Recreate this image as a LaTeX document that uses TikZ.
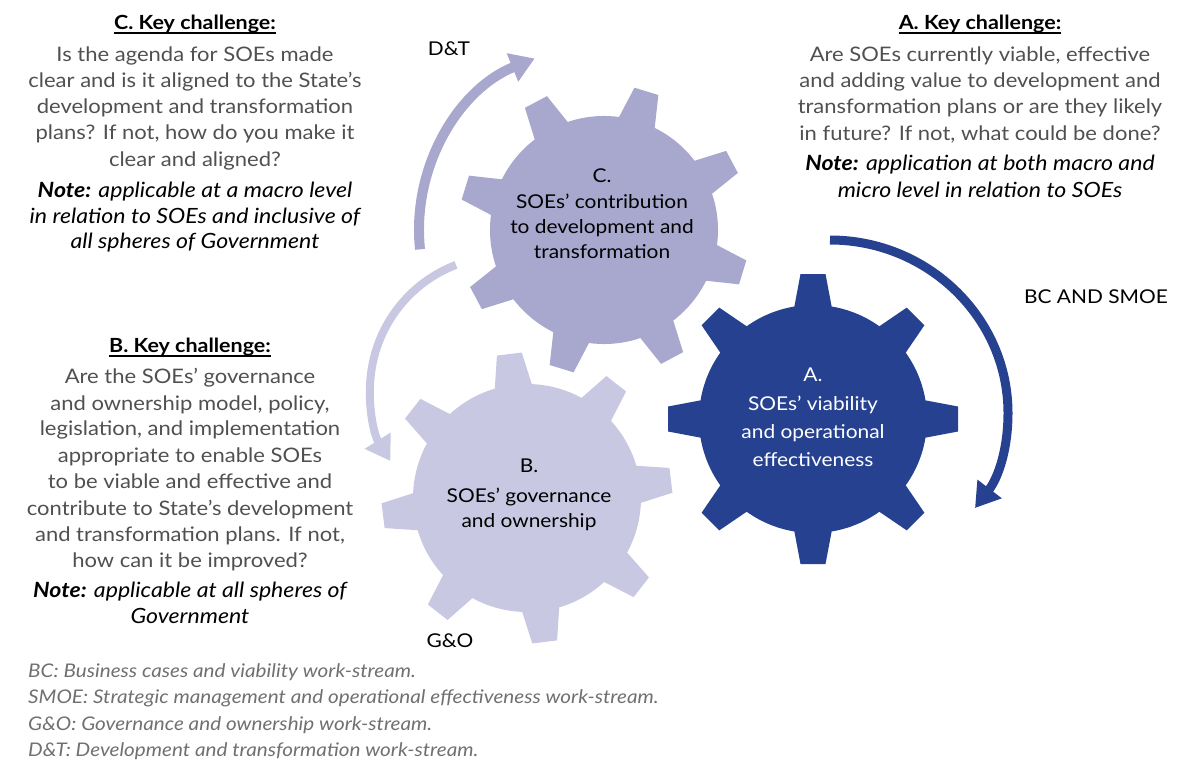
\documentclass[tikz,border=0pt]{standalone}
\usepackage{fontspec}
\setmainfont{Lato}[FakeStretch=1.1]
\usetikzlibrary{arrows.meta,calc}
\definecolor{gearA}{HTML}{26418F}
\definecolor{gearB}{HTML}{C9C8E2}
\definecolor{gearC}{HTML}{A8A8CE}
\definecolor{bodytext}{HTML}{505050}
\definecolor{foottext}{HTML}{707070}
\tikzset{
  bodyline/.style={anchor=base, inner sep=0pt, text=bodytext, font=\fontsize{20}{26}\selectfont},
  noteline/.style={anchor=base, inner sep=0pt, text=black, font=\fontsize{21}{26}\selectfont\itshape},
  titleline/.style={anchor=base, inner sep=0pt, text=black, font=\fontsize{19.5}{26}\selectfont\bfseries},
  gearline/.style={anchor=base, inner sep=0pt, font=\fontsize{19}{24}\selectfont},
  streamlabel/.style={anchor=base, inner sep=0pt, text=black, font=\fontsize{19}{24}\selectfont},
  footline/.style={anchor=base west, inner sep=0pt, text=foottext, font=\fontsize{18.8}{24}\selectfont\itshape},
  uline/.style={line width=1.1pt, black},
  flowarrow/.style={-{Triangle[length=24pt,width=29pt]}},
}
\newcommand\drawgear[3]{%
  \begin{scope}[shift={(#1)}, rotate=#2]
    \fill[#3] (0,0) circle[radius=114];
    \foreach \k in {0,45,...,315}
      \fill[#3, rotate=\k] (100,-21) -- (145,-12.5) -- (145,12.5) -- (100,21) -- cycle;
  \end{scope}}
\begin{document}
\begin{tikzpicture}[x=1pt,y=-1pt]
\useasboundingbox (0,0) rectangle (1204,763);
% gear centres
\coordinate (gC) at (604,230);
\coordinate (gB) at (527,498);
\coordinate (gA) at (813,419);
\coordinate (bArc) at (504,390);
% gears
\drawgear{gC}{-17}{gearC}
\drawgear{gB}{7}{gearB}
\drawgear{gA}{0}{gearA}
% arrows
\draw[flowarrow, gearC, line width=10pt] ($(gC)+(-186:185)$) arc[start angle=-186, end angle=-112, radius=185];
\draw[flowarrow, gearB, line width=8pt] ($(bArc)+(-111:134)$) arc[start angle=-111, end angle=-212, radius=134];
\coordinate (aStart) at (830,240);
\coordinate (aMid) at (1008,413);
\coordinate (aEnd) at (975,508);
\draw[flowarrow, gearA, line width=9pt] (aStart) .. controls (928,240) and (1008,318) .. (aMid) .. controls (1008,450) and (998,478) .. (aEnd);
% gear texts
\foreach \yy/\txt [count=\i] in {182/{C.},208/{SOEs’ contribution},233/{to development and},258/{transformation}}
  \node[gearline, text=black] (gct\i) at (602,\yy) {\txt};
\foreach \yy/\txt [count=\i] in {472/{B.},502/{SOEs’ governance},527/{and ownership}}
  \node[gearline, text=black] (gbt\i) at (529,\yy) {\txt};
\foreach \yy/\txt [count=\i] in {381/{A.},410/{SOEs’ viability},438/{and operational},466/{effectiveness}}
  \node[gearline, text=white] (gat\i) at (813,\yy) {\txt};
% stream labels
\node[streamlabel] (lDT) at (449,55) {D\&T};
\node[streamlabel] (lBC) at (1096,303) {BC AND SMOE};
\node[streamlabel] (lGO) at (450,647) {G\&O};
% C block
\node[titleline] (tC) at (195,29) {C. Key challenge:};
\draw[uline] ([yshift=-4pt]tC.base west) -- ([yshift=-4pt]tC.base east);
\foreach \yy/\txt [count=\i] in {61/{Is the agenda for SOEs made},87/{clear and is it aligned to the State’s},113/{development and transformation},139/{plans? If not, how do you make it},166/{clear and aligned?}}
  \node[bodyline] (cb\i) at (195,\yy) {\txt};
\foreach \yy/\txt [count=\i] in {197/{\textbf{Note:} applicable at a macro level},223/{in relation to SOEs and inclusive of},248/{all spheres of Government}}
  \node[noteline] (cn\i) at (195,\yy) {\txt};
% A block
\node[titleline] (tA) at (980,29) {A. Key challenge:};
\draw[uline] ([yshift=-4pt]tA.base west) -- ([yshift=-4pt]tA.base east);
\foreach \yy/\txt [count=\i] in {61/{Are SOEs currently viable, effective},87/{and adding value to development and},113/{transformation plans or are they likely},140/{in future? If not, what could be done?}}
  \node[bodyline] (ab\i) at (980,\yy) {\txt};
\foreach \yy/\txt [count=\i] in {170/{\textbf{Note:} application at both macro and},197/{micro level in relation to SOEs}}
  \node[noteline] (an\i) at (980,\yy) {\txt};
% B block
\node[titleline] (tB) at (190,352) {B. Key challenge:};
\draw[uline] ([yshift=-4pt]tB.base west) -- ([yshift=-4pt]tB.base east);
\foreach \yy/\txt [count=\i] in {383/{Are the SOEs’ governance},410/{and ownership model, policy,},435/{legislation, and implementation},462/{appropriate to enable SOEs},488/{to be viable and effective and},515/{contribute to State’s development},541/{and transformation plans. If not,},567/{how can it be improved?}}
  \node[bodyline] (bb\i) at (190,\yy) {\txt};
\foreach \yy/\txt [count=\i] in {597/{\textbf{Note:} applicable at all spheres of},623/{Government}}
  \node[noteline] (bn\i) at (190,\yy) {\txt};
% footnotes
\foreach \yy/\txt [count=\i] in {677/{BC: Business cases and viability work-stream.},703/{SMOE: Strategic management and operational effectiveness work-stream.},730/{G\&O: Governance and ownership work-stream.},756/{D\&T: Development and transformation work-stream.}}
  \node[footline] (fn\i) at (28,\yy) {\txt};
\end{tikzpicture}
\end{document}
